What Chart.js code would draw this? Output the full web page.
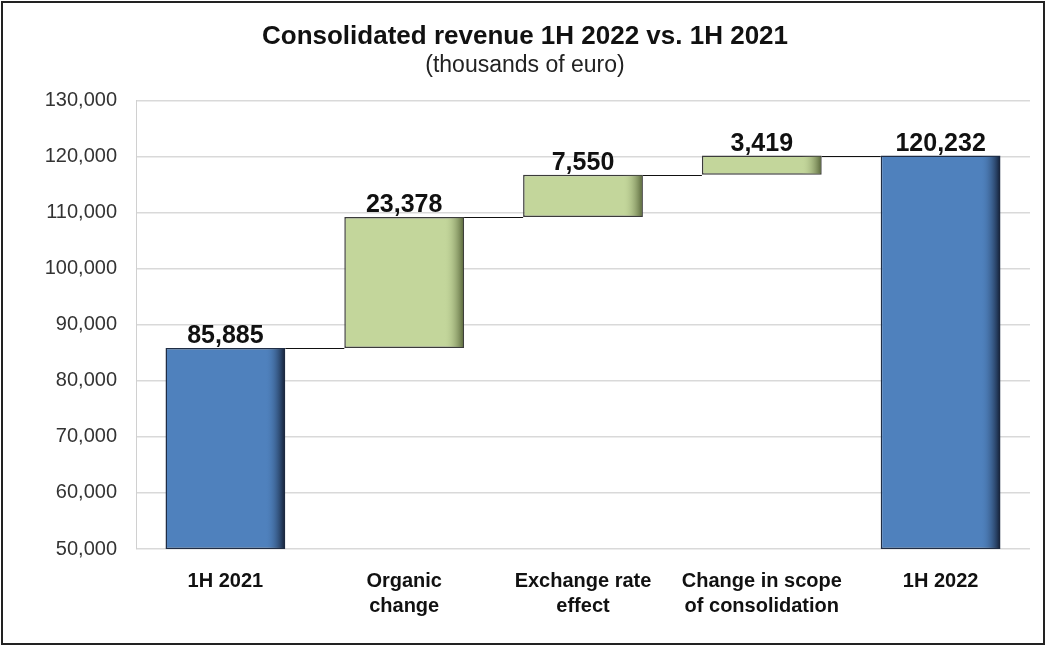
<!DOCTYPE html>
<html>
<head>
<meta charset="utf-8">
<script src="https://cdn.jsdelivr.net/npm/chart.js@4"></script>
<style>
  html, body { margin: 0; padding: 0; background: #fff; }
  #wrap { width: 1046px; height: 646px; }
</style>
</head>
<body>
<div id="wrap"><canvas id="myChart" width="1046" height="646"></canvas></div>
<script>
// Données
const categories = ['1H 2021', ['Organic', 'change'], ['Exchange rate', 'effect'], ['Change in scope', 'of consolidation'], '1H 2022'];
const startTotal = 85885;
const changes = [23378, 7550, 3419];
const endTotal = 120232;
const yTicks = [50000, 60000, 70000, 80000, 90000, 100000, 110000, 120000, 130000];
const axisMin = yTicks[0];
const axisMax = yTicks[yTicks.length - 1];

// Construction des barres flottantes [début, fin]
const ranges = [[axisMin, startTotal]];
const labelsValues = [startTotal];
let running = startTotal;
changes.forEach(c => {
    ranges.push([running, running + c]);
    labelsValues.push(c);
    running += c;
});
ranges.push([axisMin, endTotal]);
labelsValues.push(endTotal);

const blue = '#4f81bd';
const green = '#c3d69b';
const isTotal = i => i === 0 || i === ranges.length - 1;
const FONT = '"Liberation Sans", Arial, sans-serif';

const fmt = v => v.toLocaleString('en-US');

// Ombrage sur le bord droit des barres
const shadePlugin = {
    id: 'shade',
    afterDatasetDraw(chart) {
        const ctx = chart.ctx;
        chart.getDatasetMeta(0).data.forEach((bar, i) => {
            const p = bar.getProps(['x', 'y', 'base', 'width'], true);
            const right = p.x + p.width / 2 - 1;
            const w = p.width * 0.16;
            const g = ctx.createLinearGradient(right - w, 0, right, 0);
            if (isTotal(i)) {
                g.addColorStop(0, 'rgba(79,129,189,0)');
                g.addColorStop(1, 'rgba(20,32,55,0.95)');
            } else {
                g.addColorStop(0, 'rgba(195,214,155,0)');
                g.addColorStop(1, 'rgba(90,104,60,0.95)');
            }
            ctx.save();
            ctx.fillStyle = g;
            const top = Math.min(p.y, p.base) + 1;
            const h = Math.abs(p.base - p.y) - 2;
            ctx.fillRect(right - w, top, w, h);
            ctx.restore();
        });
    }
};

// Lignes de liaison et étiquettes de valeurs
const connectPlugin = {
    id: 'connect',
    afterDatasetsDraw(chart) {
        const ctx = chart.ctx;
        const yScale = chart.scales.y;
        const bars = chart.getDatasetMeta(0).data;
        ctx.save();
        ctx.strokeStyle = '#111';
        ctx.lineWidth = 1;
        for (let i = 0; i < bars.length - 1; i++) {
            const a = bars[i].getProps(['x', 'width'], true);
            const b = bars[i + 1].getProps(['x', 'width'], true);
            const y = Math.round(yScale.getPixelForValue(ranges[i][1])) + 0.5;
            ctx.beginPath();
            ctx.moveTo(a.x + a.width / 2, y);
            ctx.lineTo(b.x - b.width / 2, y);
            ctx.stroke();
        }
        ctx.fillStyle = '#111';
        ctx.font = 'bold 25px ' + FONT;
        ctx.textAlign = 'center';
        ctx.textBaseline = 'bottom';
        bars.forEach((bar, i) => {
            const y = yScale.getPixelForValue(ranges[i][1]);
            ctx.fillText(fmt(labelsValues[i]), bar.x, y + 1);
        });
        ctx.restore();
    }
};

// Cadre extérieur
const framePlugin = {
    id: 'frame',
    afterDraw(chart) {
        const ctx = chart.ctx;
        ctx.save();
        ctx.strokeStyle = '#222';
        ctx.lineWidth = 2;
        ctx.strokeRect(2, 2, chart.width - 4, chart.height - 4);
        ctx.restore();
    }
};

const ctx = document.getElementById('myChart').getContext('2d');
new Chart(ctx, {
    type: 'bar',
    data: {
        labels: categories,
        datasets: [{
            data: ranges,
            backgroundColor: ranges.map((r, i) => isTotal(i) ? blue : green),
            borderColor: ranges.map((r, i) => isTotal(i) ? '#1f2d45' : '#3b3b3b'),
            borderWidth: 1.5,
            borderSkipped: false,
            categoryPercentage: 1,
            barPercentage: 0.67,
        }],
    },
    options: {
        responsive: false,
        animation: false,
        layout: { padding: { top: 17, right: 16, bottom: 7, left: 20 } },
        plugins: {
            legend: { display: false },
            tooltip: { enabled: false },
            title: {
                display: true,
                text: 'Consolidated revenue 1H 2022 vs. 1H 2021',
                color: '#111',
                font: { family: FONT, size: 26, weight: 'bold' },
                padding: { top: 4, bottom: 0 },
            },
            subtitle: {
                display: true,
                text: '(thousands of euro)',
                color: '#222',
                font: { family: FONT, size: 23 },
                padding: { top: 0, bottom: 21 },
            },
        },
        scales: {
            x: {
                grid: { display: false, drawTicks: false },
                border: { display: false },
                ticks: {
                    color: '#111',
                    padding: 20,
                    maxRotation: 0,
                    font: { family: FONT, size: 20, weight: 'bold', lineHeight: 1.25 },
                },
            },
            y: {
                min: axisMin,
                max: axisMax,
                afterBuildTicks(axis) {
                    axis.ticks = yTicks.map(v => ({ value: v }));
                },
                afterFit(axis) { axis.width = 116; },
                grid: { color: '#d9d9d9', drawTicks: false, lineWidth: 1.5 },
                border: { display: true, color: '#d0d0d0' },
                ticks: {
                    color: '#333',
                    padding: 19,
                    font: { family: FONT, size: 20 },
                    callback: v => fmt(v),
                },
            },
        },
    },
    plugins: [shadePlugin, connectPlugin, framePlugin],
});
</script>
</body>
</html>
